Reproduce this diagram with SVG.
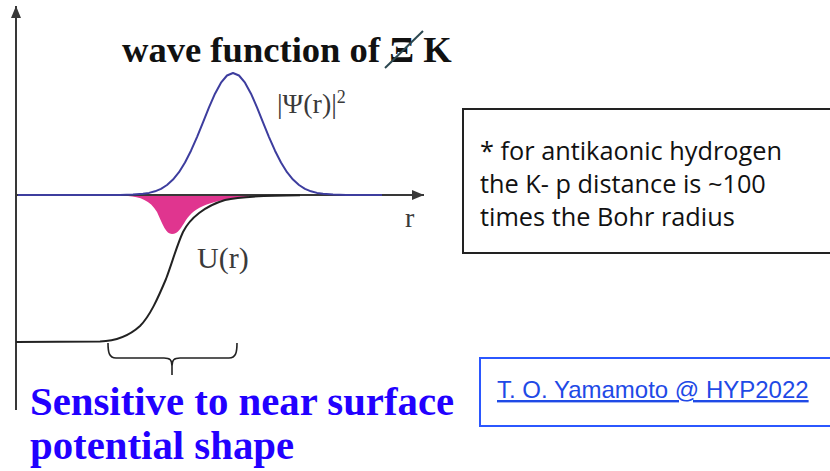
<svg xmlns="http://www.w3.org/2000/svg" width="830" height="471" viewBox="0 0 830 471">
<style>
.axis{stroke:#383838;stroke-width:2;fill:none}
.lbl{font-family:"Liberation Serif",serif;fill:#3a3a3a}
.blue{font-family:"Liberation Serif",serif;font-weight:bold;fill:#2200ff;font-size:40.8px}
.note{font-family:"Open Sans","Liberation Sans",sans-serif;font-size:25.3px;fill:#111}
</style>
<defs>
<marker id="ah" viewBox="0 0 12 10" refX="12" refY="5" markerWidth="12" markerHeight="10" markerUnits="userSpaceOnUse" orient="auto">
<path d="M0,0 L12,5 L0,10 Z" fill="#383838"/>
</marker>
</defs>
<rect width="830" height="471" fill="#fff"/>
<g id="plot">
<path id="overlap" d="M128,196 C140,197 150,200 157,212 C163,225 166,234 172,234 C178,234 181,228 186,220 C195,207 210,200 248,197 L248,195.5 L128,195.5 Z" fill="#e0358f"/>
<path id="y-axis" class="axis" d="M16,410 V6" marker-end="url(#ah)"/>
<path id="r-axis" class="axis" d="M16,195 H424" marker-end="url(#ah)"/>
<path id="psi" d="M18,195 L120,195 L133,194.6 L143,193.8 L149,192.9 L155,191.3 L161,188.8 L167,185 L173,179.6 L179,172.2 L185,162.5 L191,150.7 L197,137.1 L203,122.3 L209,107.4 L215,93.7 L221,82.7 L227,75.5 L233,73 L239,75.5 L245,82.7 L251,93.7 L257,107.4 L263,122.3 L269,137.1 L275,150.7 L281,162.5 L287,172.2 L293,179.6 L299,185 L305,188.8 L311,191.3 L317,192.9 L323,193.8 L333,194.6 L346,195 L382,195" fill="none" stroke="#3d3d9e" stroke-width="2" stroke-linejoin="round"/>
<path id="U" d="M16,342 L100,341.5 C115,341 128,337 140,326 C150,316 158,298 166,279 C172,263 177,245 183,232 C190,218 205,206 225,200 C240,196.5 260,195.5 300,195.2" fill="none" stroke="#222" stroke-width="2"/>
<path id="brace" d="M108,343 C108,352 109,358 116,358 H164 C170,358 172,360 172,366 V375 M172,366 C172,360 174,358 180,358 H229 C236,358 237,352 237,343" fill="none" stroke="#222" stroke-width="1.6"/>
<text class="lbl" x="277" y="113" font-size="28">|Ψ(r)|<tspan font-size="18" dy="-10">2</tspan></text>
<text class="lbl" x="405" y="227" font-size="28">r</text>
<text class="lbl" x="197" y="268" font-size="30">U(r)</text>
</g>
<g id="title">
<text x="122" y="62" font-family="Liberation Serif,serif" font-weight="bold" font-size="36.6" fill="#111">wave function of Ξ K</text>
<line x1="385" y1="68" x2="423" y2="31" stroke="#2b4750" stroke-width="2"/>
</g>
<g id="caption">
<text class="blue" x="30" y="415">Sensitive to near surface</text>
<text class="blue" x="30" y="459">potential shape</text>
</g>
<g id="note-box">
<rect x="463" y="109" width="380" height="144" fill="#fff" stroke="#222" stroke-width="2"/>
<text class="note" x="480" y="160">* for antikaonic hydrogen</text>
<text class="note" x="480" y="193">the K- p distance is ~100</text>
<text class="note" x="480" y="226">times the Bohr radius</text>
</g>
<g id="ref-box">
<rect x="480" y="358" width="360" height="68" fill="#fff" stroke="#2b57ff" stroke-width="2"/>
<text x="497" y="398" font-family="Liberation Sans,Arial,sans-serif" font-size="24" fill="#1f4ae6" text-decoration="underline">T. O. Yamamoto @ HYP2022</text>
</g>
</svg>
